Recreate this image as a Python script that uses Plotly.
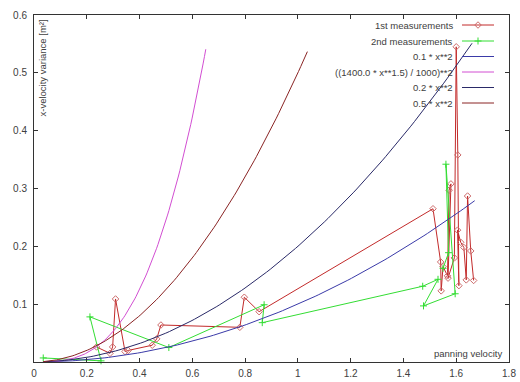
import numpy as np
import plotly.graph_objects as go

# ---- data -------------------------------------------------------------
m1_name = "1st measurements"
m1_x = [0.237, 0.288, 0.298, 0.309, 0.345, 0.357, 0.448, 0.465, 0.481, 0.780,
        0.797, 0.853, 1.512, 1.541, 1.543, 1.550, 1.567, 1.573, 1.580, 1.569,
        1.593, 1.600, 1.606, 1.610, 1.605, 1.617, 1.629, 1.638, 1.643, 1.655, 1.666]
m1_y = [0.026, 0.015, 0.026, 0.109, 0.018, 0.020, 0.029, 0.040, 0.064, 0.060,
        0.112, 0.087, 0.265, 0.173, 0.123, 0.165, 0.149, 0.297, 0.308, 0.145,
        0.180, 0.545, 0.358, 0.132, 0.228, 0.207, 0.198, 0.142, 0.287, 0.192, 0.141]

m2_name = "2nd measurements"
m2_x = [0.035, 0.254, 0.212, 0.511, 0.872, 0.865, 1.473, 1.531, 1.476, 1.596,
        1.561, 1.571, 1.550]
m2_y = [0.007, 0.002, 0.078, 0.025, 0.099, 0.068, 0.131, 0.143, 0.097, 0.118,
        0.342, 0.189, 0.162]

func_names = ["0.1 * x**2", "((1400.0 * x**1.5) / 1000)**2", "0.2 * x**2", "0.5 * x**2"]
func_x_start = 0.035
func_x_end = [1.67, 0.651, 1.66, 1.036]

x_tick_vals = [0, 0.2, 0.4, 0.6, 0.8, 1.0, 1.2, 1.4, 1.6, 1.8]
x_tick_text = ["0", "0.2", "0.4", "0.6", "0.8", "1", "1.2", "1.4", "1.6", "1.8"]
y_tick_vals = [0, 0.1, 0.2, 0.3, 0.4, 0.5, 0.6]
y_tick_text = ["", "0.1", "0.2", "0.3", "0.4", "0.5", "0.6"]

x_title = "panning velocity"
y_title = "x-velocity variance [m²]"

# ---- styles -----------------------------------------------------------
FONT = "Liberation Sans, Arial, sans-serif"
TXT = "#404040"
c_m1 = "#c22a2a"
c_m1_mk = "#cc6a6a"
c_m2 = "#33dd33"
func_colors = ["#3a3aa8", "#d24ed2", "#2a2a68", "#8a2424"]

funcs = [
    lambda x: 0.1 * x ** 2,
    lambda x: ((1400.0 * x ** 1.5) / 1000) ** 2,
    lambda x: 0.2 * x ** 2,
    lambda x: 0.5 * x ** 2,
]

fig = go.Figure()

fig.add_trace(go.Scatter(
    x=m1_x, y=m1_y, mode="lines+markers", name=m1_name,
    line=dict(color=c_m1, width=1),
    marker=dict(symbol="diamond-open", size=5, color=c_m1_mk, line=dict(width=1, color=c_m1_mk)),
    showlegend=False, cliponaxis=False))
fig.add_trace(go.Scatter(
    x=m2_x, y=m2_y, mode="lines+markers", name=m2_name,
    line=dict(color=c_m2, width=1),
    marker=dict(symbol="cross-thin", size=5, color=c_m2, line=dict(width=1, color=c_m2)),
    showlegend=False, cliponaxis=False))

for f, name, xe, col in zip(funcs, func_names, func_x_end, func_colors):
    xs = np.linspace(func_x_start, xe, 120)
    fig.add_trace(go.Scatter(x=xs, y=f(xs), mode="lines", name=name,
                             line=dict(color=col, width=1), showlegend=False))

# ---- gnuplot-style key (pixel overlay axes) ---------------------------
key_names = [m1_name, m2_name] + func_names
key_colors = [c_m1, c_m2] + func_colors
key_rows = [25, 41, 56.5, 72, 87.5, 103]
key_text_x = 455
key_line = [462, 494]
for i, (nm, col, yy) in enumerate(zip(key_names, key_colors, key_rows)):
    fig.add_trace(go.Scatter(x=key_line, y=[yy, yy], mode="lines", xaxis="x2", yaxis="y2",
                             line=dict(color=col, width=1), showlegend=False, hoverinfo="skip"))
    if i == 0:
        fig.add_trace(go.Scatter(x=[478], y=[yy], mode="markers", xaxis="x2", yaxis="y2",
                                 marker=dict(symbol="diamond-open", size=5, color=c_m1_mk,
                                             line=dict(width=1, color=c_m1_mk)),
                                 showlegend=False, hoverinfo="skip"))
    if i == 1:
        fig.add_trace(go.Scatter(x=[478], y=[yy], mode="markers", xaxis="x2", yaxis="y2",
                                 marker=dict(symbol="cross-thin", size=5, color=c_m2,
                                             line=dict(width=1, color=c_m2)),
                                 showlegend=False, hoverinfo="skip"))

annos = [dict(x=key_text_x, y=yy, xref="x2", yref="y2", text=nm, showarrow=False,
              xanchor="right", yanchor="middle", font=dict(family=FONT, size=9.5, color=TXT))
         for nm, yy in zip(key_names, key_rows)]
annos.append(dict(x=504, y=353, xref="x2", yref="y2", text=x_title, showarrow=False,
                  xanchor="right", yanchor="middle", font=dict(family=FONT, size=9.5, color=TXT)))
annos.append(dict(x=42, y=18, xref="x2", yref="y2", text=y_title, showarrow=False, textangle=-90,
                  xanchor="center", yanchor="top", font=dict(family=FONT, size=9.5, color=TXT)))
annos.append(dict(x=27, y=347, xref="x2", yref="y2", text="0", showarrow=False,
                  xanchor="right", yanchor="middle", font=dict(family=FONT, size=10, color=TXT)))

axis_common = dict(showgrid=False, zeroline=False, showline=True, linecolor="#333333", linewidth=1,
                   mirror="allticks", ticks="inside", ticklen=4, tickcolor="#333333",
                   automargin=False,
                   tickfont=dict(family=FONT, size=10, color=TXT))

fig.update_layout(
    width=520, height=382,
    margin=dict(l=34, r=11, t=15, b=20, pad=0),
    paper_bgcolor="white", plot_bgcolor="white",
    xaxis=dict(range=[0, 1.8], tickvals=x_tick_vals, ticktext=x_tick_text,
               ticklabelstandoff=2, **axis_common),
    yaxis=dict(range=[0, 0.6], tickvals=y_tick_vals, ticktext=y_tick_text,
               ticklabelstandoff=4, **axis_common),
    xaxis2=dict(overlaying="x", anchor="y2", range=[34, 509], visible=False, fixedrange=True),
    yaxis2=dict(overlaying="y", anchor="x2", range=[362, 15], visible=False, fixedrange=True),
    annotations=annos,
    showlegend=False,
)

fig.write_html("out.html")
